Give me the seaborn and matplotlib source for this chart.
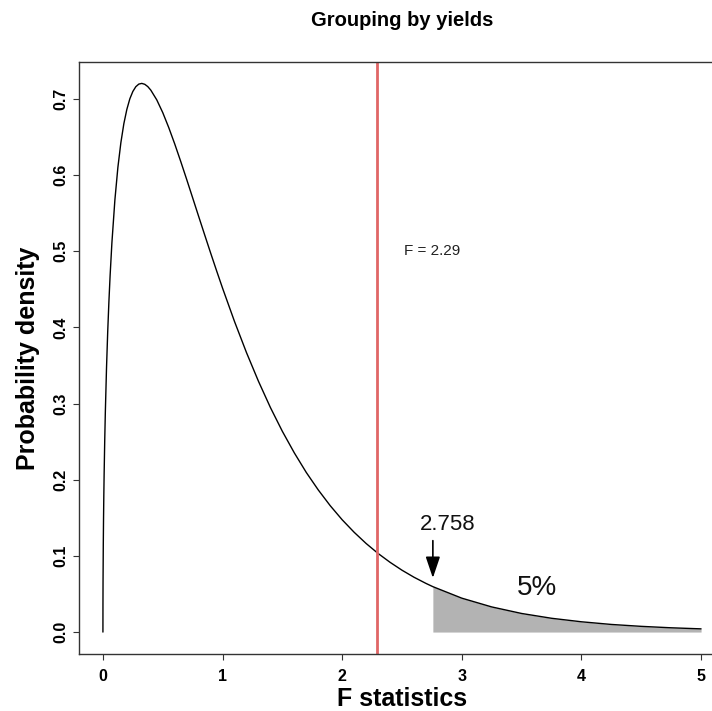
import matplotlib
matplotlib.use("Agg")
import matplotlib.pyplot as plt
import seaborn as sns
import pandas as pd

# ---- data (F density curve, df = 3, 60) ----
f_x = [0, 0.0003, 0.001, 0.003, 0.005, 0.0075, 0.01, 0.015, 0.02, 0.03, 0.04,
       0.05, 0.06, 0.075, 0.1, 0.125, 0.15, 0.175, 0.2, 0.225, 0.25, 0.275,
       0.3, 0.325, 0.35, 0.375, 0.4, 0.45, 0.5, 0.55, 0.6, 0.65, 0.7, 0.75,
       0.8, 0.85, 0.9, 0.95, 1.0, 1.1, 1.2, 1.3, 1.4, 1.5, 1.6, 1.7, 1.8,
       1.9, 2.0, 2.1, 2.2, 2.3, 2.4, 2.5, 2.6, 2.7, 2.758, 3.0, 3.25, 3.5,
       3.75, 4.0, 4.25, 4.5, 4.75, 5.0]
density = [0, 0.0364, 0.0663, 0.1144, 0.1473, 0.1797, 0.2067, 0.2511, 0.2877,
           0.3468, 0.3943, 0.4339, 0.4679, 0.5110, 0.5673, 0.6100, 0.6425,
           0.6675, 0.6862, 0.7001, 0.7097, 0.7160, 0.7194, 0.7203, 0.7191,
           0.7161, 0.7115, 0.6987, 0.6820, 0.6624, 0.6409, 0.6180, 0.5943,
           0.5701, 0.5458, 0.5217, 0.4978, 0.4744, 0.4515, 0.4077, 0.3669,
           0.3293, 0.2948, 0.2635, 0.2352, 0.2095, 0.1866, 0.1659, 0.1474,
           0.1310, 0.1163, 0.1032, 0.0916, 0.0812, 0.0720, 0.0639, 0.0596,
           0.0445, 0.0330, 0.0244, 0.0181, 0.0135, 0.0100, 0.0075, 0.0056,
           0.0042]
f_observed = 2.29
f_critical = 2.758
x_ticks = [0, 1, 2, 3, 4, 5]
y_ticks = [0.0, 0.1, 0.2, 0.3, 0.4, 0.5, 0.6, 0.7]
y_tick_labels = ["0.0", "0.1", "0.2", "0.3", "0.4", "0.5", "0.6", "0.7"]
title = "Grouping by yields"
x_label = "F statistics"
y_label = "Probability density"

df = pd.DataFrame({"x": f_x, "y": density})
tail = df[df["x"] >= f_critical]

sns.set_style("white")
plt.rcParams["font.family"] = ["Liberation Sans", "DejaVu Sans"]
plt.rcParams["text.color"] = "black"
plt.rcParams["axes.labelcolor"] = "black"

fig = plt.figure(figsize=(7.12, 7.11), dpi=100)
ax = fig.add_axes([79 / 712, 57 / 711, (725 - 79) / 712, 592 / 711])

ax.fill_between(tail["x"], 0, tail["y"], color="#b3b3b3", linewidth=0)
sns.lineplot(data=df, x="x", y="y", ax=ax, color="black", linewidth=1.0,
             sort=False, estimator=None)
ax.axvline(f_observed, color="#e06666", linewidth=2.0)

ax.set_xlim(-0.2, 5.2)
ax.set_ylim(-0.0288, 0.7484)
ax.set_xticks(x_ticks)
ax.set_xticklabels([str(v) for v in x_ticks], fontsize=11.5, fontweight="bold")
ax.set_yticks(y_ticks)
ax.set_yticklabels(y_tick_labels, fontsize=11.5, fontweight="bold",
                   rotation=90, va="center")
ax.tick_params(axis="x", direction="out", length=4, width=0.8, pad=6.5,
               color="#333333", labelcolor="black", bottom=True)
ax.tick_params(axis="y", direction="out", length=4, width=0.8, pad=4,
               color="#333333", labelcolor="black", left=True)

for sp in ax.spines.values():
    sp.set_visible(True)
    sp.set_color("#333333")
    sp.set_linewidth(1.0)

ax.set_xlabel(x_label, fontsize=18, fontweight="bold", va="center")
ax.xaxis.set_label_coords(0.5, (654 - 699) / 592)
ax.set_ylabel(y_label, fontsize=18, fontweight="bold", va="center")
ax.yaxis.set_label_coords((28 - 79) / 646, 0.5)

fig.text(402 / 712, 1 - 20 / 711, title, ha="center", va="center",
         fontsize=14.5, fontweight="bold", color="black")

ax.text(2.75, 0.5, "F = 2.29", fontsize=11, ha="center", va="center",
        color="#222222")
ax.text(2.885, 0.141, "2.758", fontsize=16, ha="center", va="center",
        color="#111111")
ax.text(3.63, 0.058, "5%", fontsize=20, ha="center", va="center",
        color="#111111")
ax.annotate("", xy=(f_critical, 0.071), xytext=(f_critical, 0.120),
            arrowprops=dict(arrowstyle="-|>,head_length=0.65,head_width=0.22",
                            color="black", lw=1.2, mutation_scale=20,
                            shrinkA=0, shrinkB=0))

fig.savefig("out.png", dpi=100)
